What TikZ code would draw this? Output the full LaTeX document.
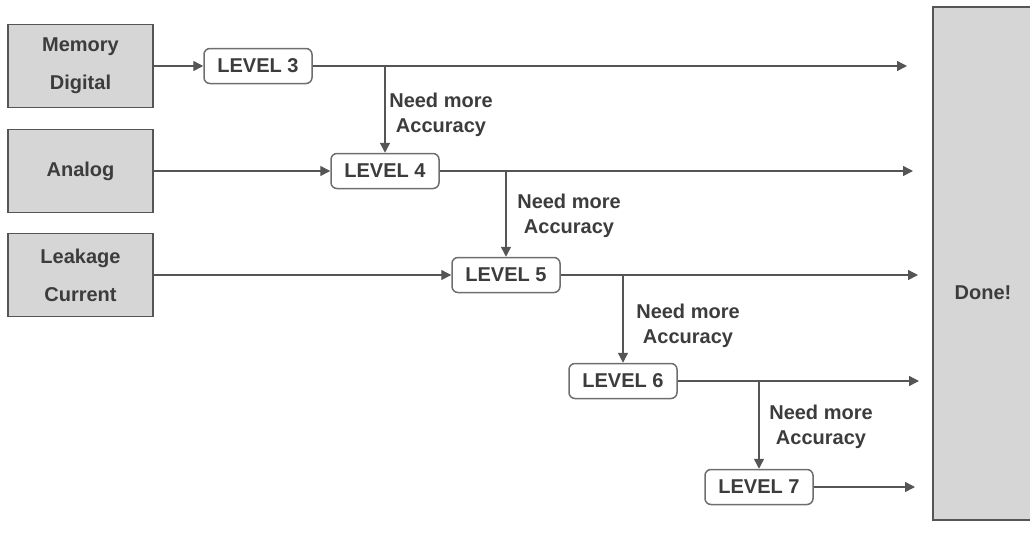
\documentclass[tikz,border=0pt]{standalone}
\usepackage{fontspec}
\setmainfont{Liberation Sans}
\usetikzlibrary{arrows.meta,positioning}
\definecolor{inkgray}{HTML}{3C3C3C}
\definecolor{linegray}{HTML}{555555}
\definecolor{boxgray}{HTML}{D6D6D6}
\tikzset{every picture/.style={line width=0.75pt}}

\begin{document}
\begin{tikzpicture}[x=0.5pt,y=-0.5pt,
    srcbox/.style={draw=linegray, fill=boxgray, minimum width=72.5pt, minimum height=41.5pt,
        inner sep=0pt, align=center, text=inkgray, font=\fontsize{10}{19}\selectfont\bfseries},
    lvlbox/.style={draw=linegray!85, fill=white, rounded corners=3pt, minimum width=54pt,
        minimum height=17.5pt, inner sep=0pt, text=inkgray, font=\fontsize{10}{12}\selectfont\bfseries},
    note/.style={align=center, text=inkgray, inner sep=0pt, font=\fontsize{10}{12.5}\selectfont\bfseries},
    flow/.style={draw=linegray, line width=0.7pt, -{Triangle[length=5pt,width=5pt]}},
]
    \useasboundingbox (0,0) rectangle (1030,542);
    % 输入
    \node[srcbox] (mem) at (80.5,66) {Memory\\Digital};
    \node[srcbox] (ana) at (80.5,171) {Analog};
    \node[srcbox] (leak) at (80.5,275) {Leakage\\Current};
    % 结束
    \node[srcbox, minimum width=52pt, minimum height=256.5pt] (done) at (985,263.5) {};
    \node[note] (donelbl) at (983,293) {Done!};
    % 各级
    \node[lvlbox] (l3) at (258,66) {LEVEL 3};
    \node[lvlbox] (l4) at (385,171) {LEVEL 4};
    \node[lvlbox] (l5) at (506,275) {LEVEL 5};
    \node[lvlbox] (l6) at (623,381) {LEVEL 6};
    \node[lvlbox] (l7) at (759,487) {LEVEL 7};
    % 输入箭头
    \draw[flow] (mem.east) -- (l3.west);
    \draw[flow] (ana.east) -- (l4.west);
    \draw[flow] (leak.east) -- (l5.west);
    % 通往 Done
    \coordinate (e3) at (907,66);
    \coordinate (e4) at (913,171);
    \coordinate (e5) at (918,275);
    \coordinate (e6) at (919,381);
    \coordinate (e7) at (915,487);
    \draw[flow] (l3.east) -- (e3);
    \draw[flow] (l4.east) -- (e4);
    \draw[flow] (l5.east) -- (e5);
    \draw[flow] (l6.east) -- (e6);
    \draw[flow] (l7.east) -- (e7);
    % 向下
    \draw[flow] (l4.north |- l3.east) -- (l4.north);
    \draw[flow] (l5.north |- l4.east) -- (l5.north);
    \draw[flow] (l6.north |- l5.east) -- (l6.north);
    \draw[flow] (l7.north |- l6.east) -- (l7.north);
    % 标注
    \node[note] (n4) at (441,115) {Need more\\Accuracy};
    \node[note] (n5) at (569,216) {Need more\\Accuracy};
    \node[note] (n6) at (688,326) {Need more\\Accuracy};
    \node[note] (n7) at (821,427) {Need more\\Accuracy};
\end{tikzpicture}
\end{document}
